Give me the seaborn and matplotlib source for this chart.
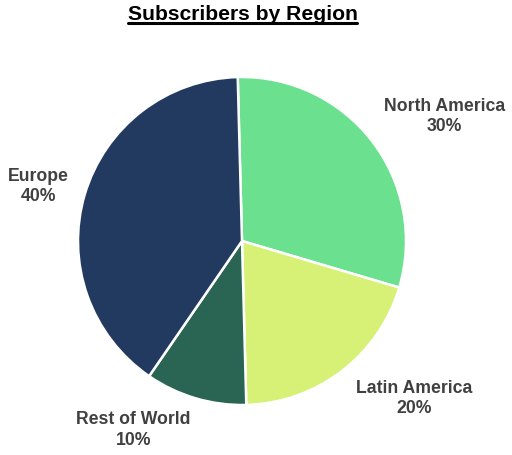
import matplotlib
matplotlib.use("Agg")
import matplotlib.pyplot as plt
import seaborn as sns

regions = ["North America", "Latin America", "Rest of World", "Europe"]
shares = [30, 20, 10, 40]
colors = ["#6be08f", "#d6f176", "#2a6452", "#223a60"]
title = "Subscribers by Region"

# label anchor positions (in pie-radius units)
label_pos = [(1.235, 0.765), (1.052, -0.954), (-0.662, -1.146), (-1.241, 0.338)]

sns.set_theme(style="white")
plt.rcParams["font.family"] = ["Liberation Sans", "DejaVu Sans"]

W, H, DPI = 512, 456, 100
fig = plt.figure(figsize=(W / DPI, H / DPI), dpi=DPI)
cx, cy, r = 242, 242, 164
ax = fig.add_axes([(cx - r) / W, (H - cy - r) / H, 2 * r / W, 2 * r / H])

wedges, _ = ax.pie(shares, colors=colors, startangle=91.5, counterclock=False,
                   radius=1, wedgeprops=dict(edgecolor="white", linewidth=1.8))
ax.set_xlim(-1, 1)
ax.set_ylim(-1, 1)
ax.set_aspect("equal")
ax.axis("off")

for reg, val, (x, y) in zip(regions, shares, label_pos):
    ax.text(x, y, f"{reg}\n{val}%", ha="center", va="center", multialignment="center",
            fontsize=12.7, fontweight="bold", color="#404040", linespacing=1.28,
            clip_on=False)

t = fig.text(242.5 / W, 1 - 20 / H, title, ha="center", va="baseline",
             fontsize=15.2, fontweight="bold", color="black")
fig.canvas.draw()
bb = t.get_window_extent()
uy = (H - 23.5) / H
fig.add_artist(plt.Line2D([bb.x0 / W, bb.x1 / W], [uy, uy], color="black",
                          linewidth=2.2, transform=fig.transFigure))

fig.savefig("out.png", dpi=DPI)
